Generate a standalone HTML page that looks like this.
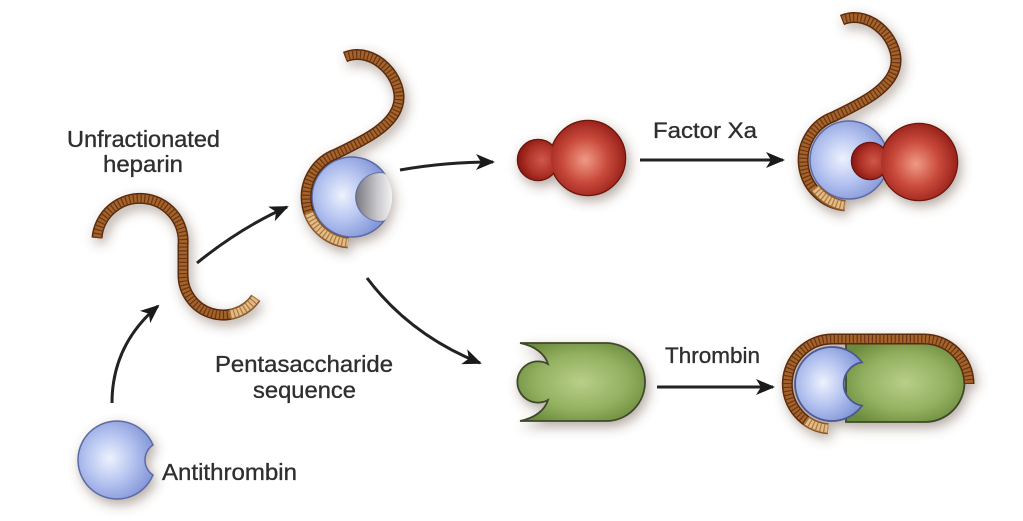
<!DOCTYPE html>
<html><head><meta charset="utf-8"><style>
html,body{margin:0;padding:0;background:#fff;}
svg{display:block;}
text{font-family:"Liberation Sans",Arial,sans-serif;fill:#2f2f2f;stroke:#2f2f2f;stroke-width:0.35;}
.ho{fill:none;stroke:#5a2c0e;stroke-width:11;}
.hi{fill:none;stroke:#a4642c;stroke-width:8;}
.hd{fill:none;stroke:#6a3412;stroke-width:8;stroke-dasharray:1.2 2.6;}
.lo{fill:none;stroke:#8a5a2e;stroke-width:11;}
.li{fill:none;stroke:#e4bb82;stroke-width:8;}
.ld{fill:none;stroke:#a87846;stroke-width:8;stroke-dasharray:1.2 2.6;}
.ar{fill:none;stroke:#222;stroke-width:3;}
</style></head><body>
<svg width="1023" height="521" viewBox="0 0 1023 521" xmlns="http://www.w3.org/2000/svg">
<defs>
<filter id="sh" x="-40%" y="-40%" width="180%" height="180%">
<feGaussianBlur in="SourceAlpha" stdDeviation="6" result="b"/>
<feOffset in="b" dx="3" dy="5" result="o"/>
<feFlood flood-color="#5a4030" flood-opacity="0.45"/>
<feComposite in2="o" operator="in" result="s"/>
<feMerge><feMergeNode in="s"/><feMergeNode in="SourceGraphic"/></feMerge>
</filter>
<radialGradient id="blue" cx="0.42" cy="0.48" r="0.6">
<stop offset="0" stop-color="#eef2fd"/><stop offset="0.5" stop-color="#b8c6f1"/><stop offset="1" stop-color="#8497d8"/>
</radialGradient>
<radialGradient id="red1" gradientUnits="userSpaceOnUse" cx="585" cy="160" r="45">
<stop offset="0" stop-color="#f09a86"/><stop offset="0.5" stop-color="#c94a3c"/><stop offset="1" stop-color="#8e1812"/>
</radialGradient>
<radialGradient id="red2" gradientUnits="userSpaceOnUse" cx="916" cy="164" r="46">
<stop offset="0" stop-color="#f09a86"/><stop offset="0.5" stop-color="#c94a3c"/><stop offset="1" stop-color="#8e1812"/>
</radialGradient>
<radialGradient id="reds" cx="0.6" cy="0.5" r="0.6">
<stop offset="0" stop-color="#d0574a"/><stop offset="0.6" stop-color="#b03328"/><stop offset="1" stop-color="#8a1812"/>
</radialGradient>
<radialGradient id="grn" cx="0.5" cy="0.5" r="0.6">
<stop offset="0" stop-color="#b8cf88"/><stop offset="0.6" stop-color="#93b060"/><stop offset="1" stop-color="#6b8a3c"/>
</radialGradient>
<linearGradient id="cav" x1="0" y1="0" x2="1" y2="0">
<stop offset="0" stop-color="#6f7078"/><stop offset="0.6" stop-color="#c8c8cc"/><stop offset="1" stop-color="#f6f6f6"/>
</linearGradient>
<marker id="ah" markerUnits="userSpaceOnUse" markerWidth="22" markerHeight="18" refX="17" refY="8" orient="auto">
<path d="M0,0 L19,8 L0,16 L5,8 Z" fill="#1a1a1a"/>
</marker>
</defs>

<!-- Labels -->
<text x="67" y="147" font-size="23" textLength="153" lengthAdjust="spacingAndGlyphs">Unfractionated</text>
<text x="103" y="172" font-size="23" textLength="80" lengthAdjust="spacingAndGlyphs">heparin</text>
<text x="215" y="372" font-size="23" textLength="178" lengthAdjust="spacingAndGlyphs">Pentasaccharide</text>
<text x="253" y="398" font-size="23" textLength="103" lengthAdjust="spacingAndGlyphs">sequence</text>
<text x="162" y="480" font-size="23" textLength="135" lengthAdjust="spacingAndGlyphs">Antithrombin</text>
<text x="653" y="138" font-size="22" textLength="104" lengthAdjust="spacingAndGlyphs">Factor Xa</text>
<text x="665" y="363" font-size="22" textLength="95" lengthAdjust="spacingAndGlyphs">Thrombin</text>

<!-- Arrows -->
<path class="ar" d="M112,403 Q112,345 158,306" marker-end="url(#ah)"/>
<path class="ar" d="M197,263 Q240,228 287,207" marker-end="url(#ah)"/>
<path class="ar" d="M400,170 Q445,162 493,162" marker-end="url(#ah)"/>
<path class="ar" d="M640,160 L783,160" marker-end="url(#ah)"/>
<path class="ar" d="M367,278 Q410,335 480,363" marker-end="url(#ah)"/>
<path class="ar" d="M657,387 L773,387" marker-end="url(#ah)"/>

<!-- Free heparin -->
<g filter="url(#sh)">
<path class="ho" d="M97,238 A43,43 0 0 1 183,245 L183,275 A40,40 0 0 0 255.8,297.9"/>
<path class="hi" d="M97,238 A43,43 0 0 1 183,245 L183,275 A40,40 0 0 0 255.8,297.9"/>
<path class="hd" d="M97,238 A43,43 0 0 1 183,245 L183,275 A40,40 0 0 0 255.8,297.9"/>
<path class="lo" d="M230,314.4 A40,40 0 0 0 255.8,297.9"/>
<path class="li" d="M230,314.4 A40,40 0 0 0 255.8,297.9"/>
<path class="ld" d="M230,314.4 A40,40 0 0 0 255.8,297.9"/>
</g>

<!-- Free antithrombin -->
<g filter="url(#sh)">
<path d="M153,445 A39,39 0 1 0 153,475 A18,18 0 0 1 153,445 Z" fill="url(#blue)" stroke="#5a6aa6" stroke-width="1.5"/>
</g>

<!-- Complex 1 -->
<g filter="url(#sh)">
<path d="M384.3,173.4 A40,40 0 1 0 384.3,220.6 A24,24 0 1 1 384.3,173.4 Z" fill="url(#blue)" stroke="#5a6aa6" stroke-width="1.5"/>
<path d="M384.3,173.4 A24,24 0 1 0 384.3,220.6 A40,40 0 0 0 384.3,173.4 Z" fill="url(#cav)" opacity="0.85"/>
<path class="ho" d="M345,57 C375,45 405,80 398,105 C392,128 360,142 336.3,153.8 A46,46 0 0 0 348,242.8"/>
<path class="hi" d="M345,57 C375,45 405,80 398,105 C392,128 360,142 336.3,153.8 A46,46 0 0 0 348,242.8"/>
<path class="hd" d="M345,57 C375,45 405,80 398,105 C392,128 360,142 336.3,153.8 A46,46 0 0 0 348,242.8"/>
<path class="lo" d="M308.8,212.7 A46,46 0 0 0 348,242.8"/>
<path class="li" d="M308.8,212.7 A46,46 0 0 0 348,242.8"/>
<path class="ld" d="M308.8,212.7 A46,46 0 0 0 348,242.8"/>
</g>

<!-- Free Factor Xa -->
<g filter="url(#sh)">
<circle cx="538" cy="160" r="20" fill="none" stroke="#6a1410" stroke-width="2.5"/>
<circle cx="588" cy="158" r="37" fill="none" stroke="#6a1410" stroke-width="2.5"/>
<circle cx="538" cy="160" r="20" fill="url(#reds)"/>
<circle cx="588" cy="158" r="37" fill="url(#red1)"/>
</g>

<!-- Complex 2 -->
<g filter="url(#sh)">
<circle cx="849" cy="160" r="39" fill="url(#blue)" stroke="#5a6aa6" stroke-width="1.5"/>
<circle cx="870" cy="161" r="18" fill="none" stroke="#6a1410" stroke-width="2.5"/>
<circle cx="919" cy="162" r="38" fill="none" stroke="#6a1410" stroke-width="2.5"/>
<circle cx="870" cy="161" r="18" fill="url(#reds)"/>
<circle cx="919" cy="162" r="38" fill="url(#red2)"/>
<g transform="translate(497,-37)">
<path class="ho" d="M345,57 C375,45 405,80 398,105 C392,128 360,142 336.3,153.8 A46,46 0 0 0 348,242.8"/>
<path class="hi" d="M345,57 C375,45 405,80 398,105 C392,128 360,142 336.3,153.8 A46,46 0 0 0 348,242.8"/>
<path class="hd" d="M345,57 C375,45 405,80 398,105 C392,128 360,142 336.3,153.8 A46,46 0 0 0 348,242.8"/>
<path class="lo" d="M318,225 A46,46 0 0 0 348,242.8"/>
<path class="li" d="M318,225 A46,46 0 0 0 348,242.8"/>
<path class="ld" d="M318,225 A46,46 0 0 0 348,242.8"/>
</g>
</g>

<!-- Free thrombin -->
<g filter="url(#sh)">
<path d="M520,343 L606,343 A39,39 0 0 1 606,421 L520,421 C535,418 545,410 548,400 A20.6,20.6 0 1 1 548,364 C545,354 535,346 520,343 Z" fill="url(#grn)" stroke="#3d4a2c" stroke-width="1.8"/>
</g>

<!-- Complex 3 -->
<g filter="url(#sh)">
<path d="M846,343 L925,343 A39.5,39.5 0 0 1 925,422 L846,422 Z" fill="url(#grn)" stroke="#3d4a2c" stroke-width="1.8"/>
<path d="M862,362.3 A37,37 0 1 0 862,405.7 A22,22 0 0 1 862,362.3 Z" fill="url(#blue)" stroke="#4a5a90" stroke-width="1.8"/>
<path class="ho" d="M969,384 A45,45 0 0 0 924,339 L832,339 A45,45 0 0 0 828.1,428.8"/>
<path class="hi" d="M969,384 A45,45 0 0 0 924,339 L832,339 A45,45 0 0 0 828.1,428.8"/>
<path class="hd" d="M969,384 A45,45 0 0 0 924,339 L832,339 A45,45 0 0 0 828.1,428.8"/>
<path class="lo" d="M806.2,420.9 A45,45 0 0 0 828.1,428.8"/>
<path class="li" d="M806.2,420.9 A45,45 0 0 0 828.1,428.8"/>
<path class="ld" d="M806.2,420.9 A45,45 0 0 0 828.1,428.8"/>
</g>
</svg>
</body></html>
